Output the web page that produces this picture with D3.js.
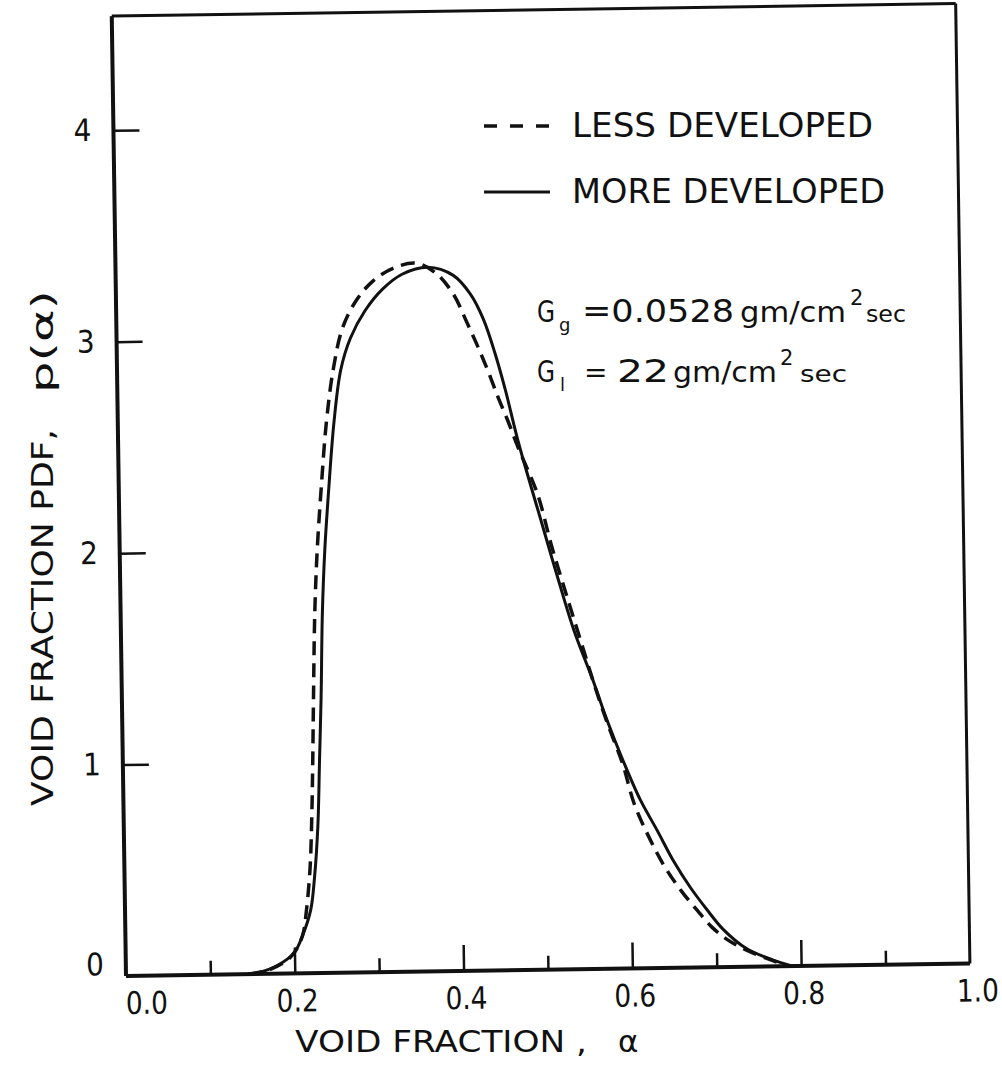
<!DOCTYPE html>
<html>
<head>
<meta charset="utf-8">
<script src="https://cdn.jsdelivr.net/npm/d3@7"></script>
<style>
  html, body { margin: 0; padding: 0; background: #fff; }
  text { font-family: "DejaVu Sans", "Liberation Sans", sans-serif; fill: #111; }
</style>
</head>
<body>
<div id="chart"></div>
<script>
// void fraction, alpha
var lessX = [0.145, 0.17, 0.19, 0.20, 0.21, 0.215, 0.22, 0.223, 0.225, 0.227, 0.230, 0.234, 0.240, 0.247, 0.256, 0.268, 0.285, 0.305, 0.33, 0.357, 0.38, 0.40, 0.415, 0.428, 0.44, 0.451, 0.462, 0.474, 0.496, 0.512, 0.530, 0.547, 0.558, 0.574, 0.592, 0.605, 0.622, 0.64, 0.66, 0.678, 0.695, 0.713, 0.735, 0.765, 0.785];
var lessP = [0.0, 0.02, 0.06, 0.10, 0.18, 0.30, 0.50, 0.75, 1.00, 1.30, 1.70, 2.00, 2.30, 2.60, 2.85, 3.05, 3.18, 3.27, 3.33, 3.35, 3.30, 3.20, 3.07, 2.95, 2.83, 2.71, 2.60, 2.47, 2.25, 2.00, 1.75, 1.52, 1.37, 1.17, 0.97, 0.78, 0.62, 0.48, 0.36, 0.27, 0.19, 0.13, 0.08, 0.03, 0.0];

var moreX = [0.145, 0.16, 0.18, 0.20, 0.21, 0.22, 0.225, 0.230, 0.233, 0.236, 0.239, 0.243, 0.249, 0.256, 0.265, 0.277, 0.295, 0.316, 0.34, 0.37, 0.40, 0.42, 0.435, 0.448, 0.46, 0.474, 0.50, 0.518, 0.537, 0.558, 0.574, 0.592, 0.612, 0.632, 0.65, 0.67, 0.69, 0.708, 0.736, 0.767, 0.79];
var moreP = [0.0, 0.01, 0.04, 0.10, 0.18, 0.30, 0.45, 0.70, 1.00, 1.30, 1.70, 2.00, 2.30, 2.60, 2.85, 3.00, 3.13, 3.23, 3.30, 3.33, 3.29, 3.20, 3.08, 2.92, 2.74, 2.50, 2.12, 1.86, 1.60, 1.37, 1.18, 0.99, 0.80, 0.65, 0.51, 0.38, 0.27, 0.18, 0.085, 0.03, 0.0];

var xMajor = [0.2, 0.4, 0.6, 0.8];
var xMinor = [0.1, 0.3, 0.5, 0.7, 0.9];
var xLabels = [0.0, 0.2, 0.4, 0.6, 0.8, 1.0];
var yTicks = [1, 2, 3, 4];
var yLabels = [0, 1, 2, 3, 4];

var W = 1002, H = 1069;
var mLeft = 126, mTop = 16, pw = 844, ph = 960;
var tilt = -0.85; // the scanned page sits a little askew

var svg = d3.select('#chart').append('svg')
    .attr('width', W)
    .attr('height', H);

var x = d3.scaleLinear().domain([0, 1]).range([0, pw]);
var y = d3.scaleLinear().domain([0, 4.54]).range([ph, 0]);

var g = svg.append('g')
    .attr('transform', 'rotate(' + tilt + ',' + mLeft + ',' + (mTop + ph) + ') translate(' + mLeft + ',' + mTop + ')');

// frame
g.append('line').attr('x1', 0).attr('y1', 0).attr('x2', pw).attr('y2', 0)
    .attr('stroke', '#111').attr('stroke-width', 3);
g.append('line').attr('x1', pw).attr('y1', 0).attr('x2', pw).attr('y2', ph)
    .attr('stroke', '#111').attr('stroke-width', 3);

// inward ticks
function inward(axis, sel) {
    sel.call(axis);
    sel.select('.domain').remove();
    sel.selectAll('.tick line').attr('stroke', '#111').attr('stroke-width', 2.5);
    sel.selectAll('.tick text').remove();
}
inward(d3.axisBottom(x).tickValues(xMajor).tickSize(-26),
    g.append('g').attr('transform', 'translate(0,' + ph + ')'));
inward(d3.axisBottom(x).tickValues(xMinor).tickSize(-14),
    g.append('g').attr('transform', 'translate(0,' + ph + ')'));
inward(d3.axisLeft(y).tickValues(yTicks).tickSize(-26),
    g.append('g'));

// tick labels
var xl = g.append('g').attr('transform', 'translate(0,' + ph + ')')
    .call(d3.axisBottom(x).tickValues(xLabels).tickSize(0).tickPadding(16).tickFormat(d3.format('.1f')));
xl.select('.domain').remove();
xl.selectAll('.tick text')
    .style('font-family', '"DejaVu Sans Condensed", "Liberation Sans Narrow", "DejaVu Sans", sans-serif')
    .style('font-size', '31px')
    .attr('fill', '#111')
    .attr('dx', function(d) { return d === 0 ? 20 : (d === 1 ? 7 : 2); })
    .attr('textLength', 42)
    .attr('lengthAdjust', 'spacingAndGlyphs');

var yl = g.append('g')
    .call(d3.axisLeft(y).tickValues(yLabels).tickSize(0).tickPadding(22).tickFormat(d3.format('d')));
yl.select('.domain').remove();
yl.selectAll('.tick text')
    .style('font-family', '"DejaVu Sans Condensed", "Liberation Sans Narrow", "DejaVu Sans", sans-serif')
    .style('font-size', '31px')
    .attr('fill', '#111')
    .attr('dy', function(d) { return d === 0 ? '-0.05em' : '0.32em'; });

// axes lines, drawn over ticks
g.append('line').attr('x1', 0).attr('y1', 0).attr('x2', 0).attr('y2', ph)
    .attr('stroke', '#111').attr('stroke-width', 4);
g.append('line').attr('x1', 0).attr('y1', ph).attr('x2', pw).attr('y2', ph)
    .attr('stroke', '#111').attr('stroke-width', 4);

// curves
var line = d3.line()
    .x(function(d) { return x(d[0]); })
    .y(function(d) { return y(d[1]); })
    .curve(d3.curveCatmullRom.alpha(0.5));

g.append('path')
    .datum(d3.zip(moreX, moreP))
    .attr('d', line)
    .attr('fill', 'none')
    .attr('stroke', '#111')
    .attr('stroke-width', 3);

g.append('path')
    .datum(d3.zip(lessX, lessP))
    .attr('d', line)
    .attr('fill', 'none')
    .attr('stroke', '#111')
    .attr('stroke-width', 3.5)
    .attr('stroke-dasharray', '14,8');

// legend
svg.append('line').attr('x1', 484).attr('y1', 126).attr('x2', 549).attr('y2', 126)
    .attr('stroke', '#111').attr('stroke-width', 3.5).attr('stroke-dasharray', '13,13');
svg.append('line').attr('x1', 484).attr('y1', 192).attr('x2', 550).attr('y2', 192)
    .attr('stroke', '#111').attr('stroke-width', 3);
svg.append('text').attr('x', 572).attr('y', 137)
    .style('font-size', '33px')
    .attr('textLength', 301).attr('lengthAdjust', 'spacingAndGlyphs')
    .text('LESS DEVELOPED');
svg.append('text').attr('x', 572).attr('y', 203)
    .style('font-size', '33px')
    .attr('textLength', 313).attr('lengthAdjust', 'spacingAndGlyphs')
    .text('MORE DEVELOPED');

// flow rates
function put(t, px, py, fs, len) {
    var el = svg.append('text').attr('x', px).attr('y', py).style('font-size', fs + 'px').text(t);
    if (len) el.attr('textLength', len).attr('lengthAdjust', 'spacingAndGlyphs');
    return el;
}
put('G', 537, 322, 30, 18);
put('g', 559, 331, 18);
put('=0.0528', 582, 322, 32, 152);
put('gm/cm', 740, 322, 28, 106);
put('2', 850, 305, 21);
put('sec', 866, 322, 23, 40);

put('G', 537, 382, 30, 18);
put('l', 560, 391, 18);
put('=', 584, 382, 28);
put('22', 617, 382, 32, 52);
put('gm/cm', 673, 382, 28, 104);
put('2', 780, 365, 21);
put('sec', 800, 382, 23, 47);

// axis titles
svg.append('text').attr('x', 295).attr('y', 1052)
    .style('font-size', '31px')
    .attr('textLength', 292).attr('lengthAdjust', 'spacingAndGlyphs')
    .text('VOID FRACTION ,');
svg.append('text').attr('x', 618).attr('y', 1052)
    .style('font-size', '31px')
    .text('α');

svg.append('text')
    .attr('transform', 'translate(53,806) rotate(-90)')
    .style('font-size', '31px')
    .attr('textLength', 377).attr('lengthAdjust', 'spacingAndGlyphs')
    .text('VOID FRACTION PDF,');
svg.append('text')
    .attr('transform', 'translate(53,393) rotate(-90)')
    .style('font-size', '31px')
    .attr('textLength', 103).attr('lengthAdjust', 'spacingAndGlyphs')
    .text('p(α)');
</script>
</body>
</html>
